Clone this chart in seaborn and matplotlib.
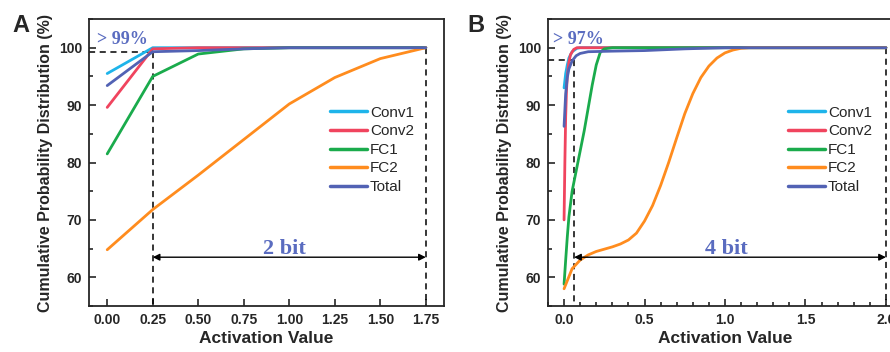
import numpy as np
import pandas as pd
import seaborn as sns
import matplotlib
matplotlib.use("Agg")
import matplotlib.pyplot as plt
from matplotlib.ticker import MultipleLocator

# ---------------- data ----------------
# Panel A (2 bit)
a_x = [0.0, 0.25, 0.5, 0.75, 1.0, 1.25, 1.5, 1.75]
a_conv1 = [95.5, 100.0, 100.0, 100.0, 100.0, 100.0, 100.0, 100.0]
a_conv2 = [89.6, 99.8, 100.0, 100.0, 100.0, 100.0, 100.0, 100.0]
a_fc1 = [81.5, 95.0, 98.9, 99.8, 100.0, 100.0, 100.0, 100.0]
a_fc2 = [64.8, 71.8, 77.8, 84.0, 90.2, 94.8, 98.1, 100.0]
a_total = [93.4, 99.3, 99.5, 99.8, 100.0, 100.0, 100.0, 100.0]

# Panel B (4 bit)
b_conv1_x = [0.0, 0.01, 0.02, 0.03, 0.05, 0.08, 0.10, 2.0]
b_conv1 = [93.0, 95.5, 97.0, 98.2, 99.3, 99.9, 100.0, 100.0]
b_conv2_x = [0.0, 0.005, 0.01, 0.015, 0.02, 0.03, 0.04, 0.06, 0.08, 2.0]
b_conv2 = [70.0, 80.0, 88.0, 92.5, 95.0, 97.5, 98.8, 99.7, 100.0, 100.0]
b_fc1_x = [0.0, 0.01, 0.02, 0.03, 0.05, 0.075, 0.10, 0.125, 0.15, 0.175,
           0.20, 0.225, 0.25, 0.30, 2.0]
b_fc1 = [58.8, 63.0, 67.0, 70.5, 75.0, 78.5, 82.0, 85.5, 89.5, 93.5,
         97.0, 99.2, 99.8, 100.0, 100.0]
b_fc2_x = [0.0, 0.05, 0.10, 0.15, 0.20, 0.25, 0.30, 0.35, 0.40, 0.45, 0.50,
           0.55, 0.60, 0.65, 0.70, 0.75, 0.80, 0.85, 0.90, 0.95, 1.00,
           1.05, 1.10, 1.15, 2.0]
b_fc2 = [58.0, 61.5, 63.0, 63.9, 64.5, 64.9, 65.3, 65.8, 66.5, 67.7, 69.8,
         72.5, 76.0, 80.0, 84.3, 88.5, 92.0, 94.8, 96.8, 98.2, 99.1,
         99.6, 99.9, 100.0, 100.0]
b_total_x = [0.0, 0.01, 0.02, 0.03, 0.05, 0.075, 0.10, 0.15, 0.30, 0.50,
             0.75, 1.00, 2.0]
b_total = [86.3, 92.0, 94.8, 96.3, 97.7, 98.6, 99.0, 99.3, 99.4, 99.5,
           99.8, 100.0, 100.0]

series_names = ["Conv1", "Conv2", "FC1", "FC2", "Total"]
colors = ["#1eb4ea", "#f0445e", "#1aab4c", "#ff8c1e", "#5262b4"]
ann_color = "#5a6cc0"

# annotation values
a_thr_x, a_thr_y, a_end = 0.25, 99.3, 1.75
b_thr_x, b_thr_y, b_end = 0.0625, 97.8, 2.0
arrow_y = 63.5
a_pct_label, b_pct_label = "> 99%", "> 97%"
a_bit_label, b_bit_label = "2 bit", "4 bit"

# ---------------- style ----------------
sns.set_style("ticks")
plt.rcParams["font.family"] = ["Liberation Sans", "DejaVu Sans"]
plt.rcParams["axes.linewidth"] = 1.3

fig = plt.figure(figsize=(8.9, 3.52), dpi=100)
axA = fig.add_axes([0.1, 0.1307, 0.3989, 0.8153])
axB = fig.add_axes([0.6157, 0.1307, 0.3978, 0.8153])


def draw(ax, xs, ys):
    for name, col, x, y in zip(series_names, colors, xs, ys):
        df = pd.DataFrame({"x": x, "y": y})
        sns.lineplot(data=df, x="x", y="y", ax=ax, color=col, lw=2.0,
                     label=name, sort=False, estimator=None)


def style(ax, xlim, xmajor, xminor, xfmt):
    ax.set_xlim(*xlim)
    ax.set_ylim(55, 105)
    ax.xaxis.set_major_locator(MultipleLocator(xmajor))
    if xminor:
        ax.xaxis.set_minor_locator(MultipleLocator(xminor))
    ax.yaxis.set_major_locator(MultipleLocator(10))
    ax.yaxis.set_minor_locator(MultipleLocator(5))
    ax.set_yticks([60, 70, 80, 90, 100])
    ax.xaxis.set_major_formatter(matplotlib.ticker.FormatStrFormatter(xfmt))
    ax.tick_params(which="both", direction="in", width=1.2)
    ax.tick_params(which="major", length=5, labelsize=10, pad=5)
    ax.tick_params(which="minor", length=3)
    for lab in ax.get_xticklabels() + ax.get_yticklabels():
        lab.set_fontweight("bold")
    for s in ax.spines.values():
        s.set_visible(True)
        s.set_linewidth(1.3)
    ax.set_xlabel("Activation Value", fontsize=12.5, fontweight="bold", labelpad=3)
    ax.set_ylabel("Cumulative Probability Distribution (%)", fontsize=11.5,
                  fontweight="bold", labelpad=4)
    leg = ax.legend(loc="center left", bbox_to_anchor=(0.679, 0.544),
                    frameon=False, fontsize=11, handlelength=2.4,
                    handletextpad=0.2, labelspacing=0.3, borderpad=0,
                    borderaxespad=0)
    for h in leg.get_lines():
        h.set_linewidth(2.5)


def guides(ax, thr_x, thr_y, end_x, pct, bit, bit_x, pct_x):
    xmin = ax.get_xlim()[0]
    kw = dict(color="black", lw=1.1, ls=(0, (4, 3)), zorder=1)
    ax.plot([xmin, thr_x], [thr_y, thr_y], **kw)
    ax.plot([thr_x, thr_x], [thr_y, 55], **kw)
    ax.plot([end_x, end_x], [100, 55], **kw)
    ax.annotate("", xy=(thr_x, arrow_y), xytext=(end_x, arrow_y),
                arrowprops=dict(arrowstyle="<|-|>", color="black", lw=1.0,
                                mutation_scale=10, shrinkA=0, shrinkB=0))
    ax.text(bit_x, 64.1, bit, ha="center", va="baseline", color=ann_color,
            fontsize=16, fontweight="bold", family="Liberation Serif")
    ax.text(pct_x, 100.7, pct, ha="left", va="baseline", color=ann_color,
            fontsize=13, fontweight="bold", family="Liberation Serif")


draw(axA, [a_x] * 5, [a_conv1, a_conv2, a_fc1, a_fc2, a_total])
style(axA, (-0.1, 1.85), 0.25, None, "%.2f")
guides(axA, a_thr_x, a_thr_y, a_end, a_pct_label, a_bit_label, 0.976, -0.055)

draw(axB, [b_conv1_x, b_conv2_x, b_fc1_x, b_fc2_x, b_total_x],
     [b_conv1, b_conv2, b_fc1, b_fc2, b_total])
style(axB, (-0.1, 2.1), 0.5, 0.1, "%.1f")
guides(axB, b_thr_x, b_thr_y, b_end, b_pct_label, b_bit_label, 1.009, -0.068)

fig.text(0.0135, 0.91, "A", fontsize=17, fontweight="bold", ha="left", va="baseline")
fig.text(0.5247, 0.91, "B", fontsize=17, fontweight="bold", ha="left", va="baseline")

fig.savefig("out.png", dpi=100)
